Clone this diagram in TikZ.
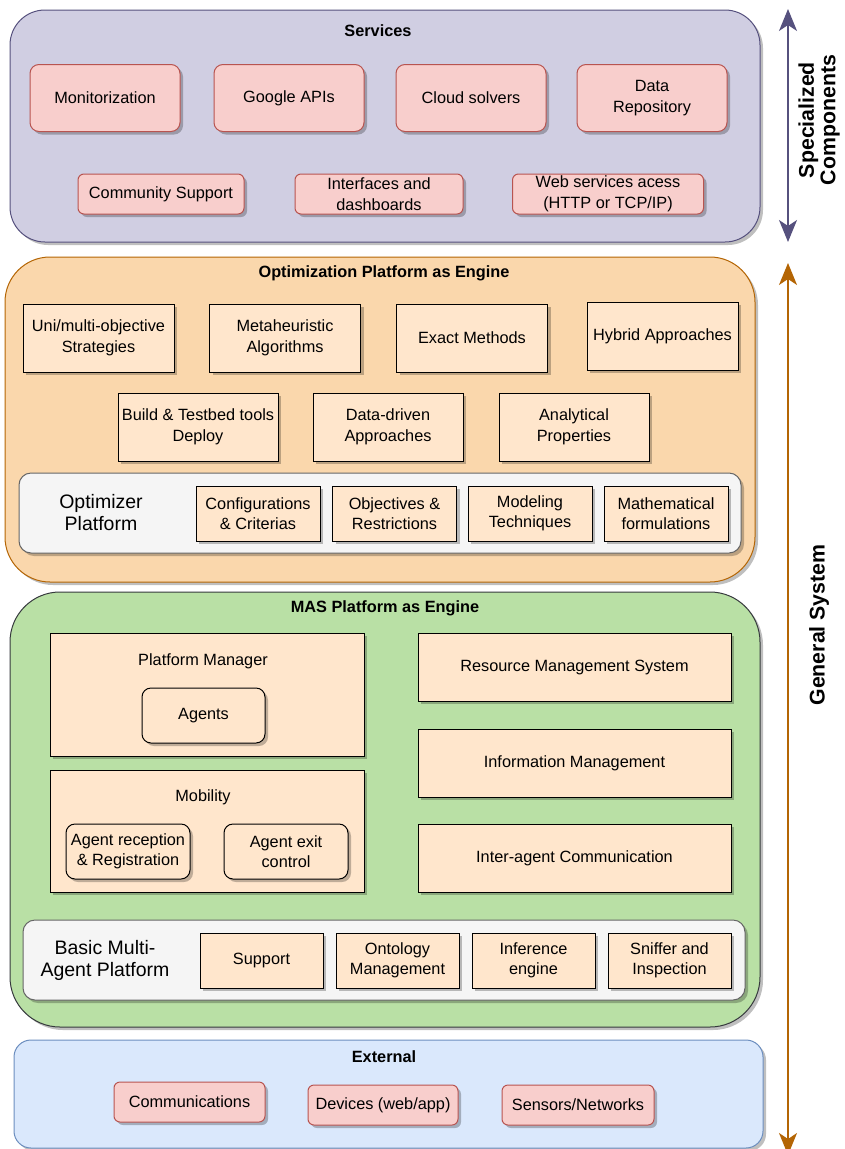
\documentclass[tikz,border=0pt]{standalone}
\usepackage{fontspec}
\setmainfont{Liberation Sans}
\usetikzlibrary{arrows.meta,shadows}

\definecolor{svcFill}{HTML}{D0CEE2}
\definecolor{svcLine}{HTML}{56517E}
\definecolor{redFill}{HTML}{F8CECC}
\definecolor{redLine}{HTML}{B85450}
\definecolor{optFill}{HTML}{FAD7AC}
\definecolor{optLine}{HTML}{B46504}
\definecolor{peach}{HTML}{FFE6CC}
\definecolor{greyFill}{HTML}{F5F5F5}
\definecolor{greyLine}{HTML}{666666}
\definecolor{masFill}{HTML}{B9E0A5}
\definecolor{masLine}{HTML}{36393D}
\definecolor{extFill}{HTML}{DAE8FC}
\definecolor{extLine}{HTML}{6C8EBF}

\begin{document}
\begin{tikzpicture}[x=1pt,y=-1pt,
  txt/.style={font=\fontsize{16.3}{20.5}\selectfont, align=center, inner sep=0pt},
  ttl/.style={font=\bfseries\fontsize{16.3}{20}\selectfont, inner sep=0pt},
  big/.style={font=\fontsize{19.5}{22}\selectfont, align=center, inner sep=0pt},
  side/.style={font=\bfseries\fontsize{21.3}{21.5}\selectfont, align=center, inner sep=0pt, rotate=90},
  sh/.style={drop shadow={shadow xshift=3pt, shadow yshift=-3pt, opacity=0.25, fill=black}},
  layer/.style={draw, line width=1pt, sh, inner sep=0pt},
  svcbox/.style={txt, draw=redLine, fill=redFill, line width=1pt, rounded corners=9pt, sh},
  sqbox/.style={txt, draw=black, fill=peach, line width=1pt, sh},
  rbox/.style={txt, draw=black, fill=peach, line width=1pt, rounded corners=9pt, sh},
  sidearrow/.style={line width=1.3pt, arrows={Stealth[length=22pt,width=18pt,inset=6pt]-Stealth[length=22pt,width=18pt,inset=6pt]}}
]
\useasboundingbox (0,0) rectangle (845,1149);

% ---------- Services layer ----------
\node[layer, draw=svcLine, fill=svcFill, rounded corners=35pt,
      minimum width=750pt, minimum height=232pt] (services) at (385,126) {};
\node[ttl] (servicesT) at (378,31) {Services};
\node[svcbox, minimum width=150pt, minimum height=67pt] (mon) at (105,98) {Monitorization};
\node[svcbox, minimum width=150pt, minimum height=67pt] (gapi) at (289,98) {Google APIs};
\node[svcbox, minimum width=150pt, minimum height=67pt] (cloud) at (471,98) {Cloud solvers};
\node[svcbox, minimum width=150pt, minimum height=67pt] (repo) at (652,98) {Data\\Repository};
\node[svcbox, rounded corners=6pt, minimum width=166pt, minimum height=40pt] (comm) at (161,194) {Community Support};
\node[svcbox, rounded corners=6pt, minimum width=168pt, minimum height=40pt] (dash) at (379,194) {Interfaces and\\dashboards};
\node[svcbox, rounded corners=6pt, minimum width=191pt, minimum height=40pt] (web) at (608,194) {Web services acess\\(HTTP or TCP/IP)};

% ---------- Optimization platform layer ----------
\node[layer, draw=optLine, fill=optFill, rounded corners=45pt,
      minimum width=750pt, minimum height=325pt] (opt) at (380,419.5) {};
\node[ttl] (optT) at (384,273) {Optimization Platform as Engine};
\node[sqbox, minimum width=151pt, minimum height=68pt] (uni) at (98.5,338) {Uni/multi-objective\\Strategies};
\node[sqbox, minimum width=151pt, minimum height=68pt] (meta) at (285,338) {Metaheuristic\\Algorithms};
\node[sqbox, minimum width=151pt, minimum height=68pt] (exact) at (472,338) {Exact Methods};
\node[sqbox, minimum width=151pt, minimum height=68pt] (hybrid) at (662.5,336) {Hybrid Approaches};
\node[sqbox, minimum width=160pt, minimum height=68pt] (build) at (198,427) {Build \& Testbed tools\\Deploy};
\node[sqbox, minimum width=150pt, minimum height=68pt] (data) at (388,427) {Data-driven\\Approaches};
\node[sqbox, minimum width=150pt, minimum height=68pt] (anal) at (574,427) {Analytical\\Properties};

\node[layer, draw=greyLine, fill=greyFill, rounded corners=12pt,
      minimum width=722pt, minimum height=80pt] (optimizer) at (380,513) {};
\node[big] (optimizerT) at (101,513) {Optimizer\\Platform};
\node[sqbox, minimum width=124pt, minimum height=55pt] (conf) at (258,513.5) {Configurations\\\& Criterias};
\node[sqbox, minimum width=124pt, minimum height=55pt] (obj) at (394.5,513.5) {Objectives \&\\Restrictions};
\node[sqbox, minimum width=124pt, minimum height=55pt] (model) at (530,513.5) {Modeling\\Techniques};
\node[sqbox, minimum width=124pt, minimum height=55pt] (math) at (666,513.5) {Mathematical\\formulations};

% ---------- MAS platform layer ----------
\node[layer, draw=masLine, fill=masFill, rounded corners=50pt,
      minimum width=750pt, minimum height=435pt] (mas) at (385,809.5) {};
\node[ttl] (masT) at (385,608) {MAS Platform as Engine};

\node[sqbox, minimum width=314pt, minimum height=123pt] (pm) at (207,694.5) {};
\node[txt] (pmT) at (203,661) {Platform Manager};
\node[rbox, minimum width=123pt, minimum height=55pt] (agents) at (203.5,715.5) {Agents};

\node[sqbox, minimum width=314pt, minimum height=122pt] (mob) at (207,831) {};
\node[txt] (mobT) at (203,797) {Mobility};
\node[rbox, minimum width=124pt, minimum height=55pt] (recep) at (128,851.5) {Agent reception\\\& Registration};
\node[rbox, minimum width=124pt, minimum height=55pt] (exit) at (286,851.5) {Agent exit\\control};

\node[sqbox, minimum width=313pt, minimum height=68pt] (rms) at (574.5,667) {Resource Management System};
\node[sqbox, minimum width=313pt, minimum height=68pt] (info) at (574.5,763) {Information Management};
\node[sqbox, minimum width=313pt, minimum height=68pt] (inter) at (574.5,858) {Inter-agent Communication};

\node[layer, draw=greyLine, fill=greyFill, rounded corners=12pt,
      minimum width=722pt, minimum height=80pt] (basic) at (384,960) {};
\node[big] (basicT) at (105,960) {Basic Multi-\\Agent Platform};
\node[sqbox, minimum width=123pt, minimum height=55pt] (support) at (261.5,960.5) {Support};
\node[sqbox, minimum width=123pt, minimum height=55pt] (onto) at (397.5,960.5) {Ontology\\Management};
\node[sqbox, minimum width=123pt, minimum height=55pt] (infer) at (533.5,960.5) {Inference\\engine};
\node[sqbox, minimum width=123pt, minimum height=55pt] (sniff) at (669.5,960.5) {Sniffer and\\Inspection};

% ---------- External layer ----------
\node[layer, draw=extLine, fill=extFill, rounded corners=17pt,
      minimum width=749pt, minimum height=108pt] (ext) at (388.5,1094) {};
\node[ttl] (extT) at (384,1057) {External};
\node[svcbox, rounded corners=6pt, minimum width=151pt, minimum height=40pt] (comms) at (189.5,1102) {Communications};
\node[svcbox, rounded corners=6pt, minimum width=150pt, minimum height=40pt] (dev) at (383,1105) {Devices (web/app)};
\node[svcbox, rounded corners=6pt, minimum width=152pt, minimum height=40pt] (sens) at (578,1105) {Sensors/Networks};

% ---------- Side scale arrows ----------
\coordinate (spTop) at (788,9);
\coordinate (spBot) at (788,242);
\coordinate (gsTop) at (788,263);
\coordinate (gsBot) at (788,1155);
\draw[sidearrow, draw=svcLine, fill=svcLine] (spTop) -- (spBot);
\draw[sidearrow, draw=optLine, fill=optLine] (gsTop) -- (gsBot);
\node[side] (spT) at (819,120) {Specialized\\Components};
\node[side] (gsT) at (819,625) {General System};
\end{tikzpicture}
\end{document}
